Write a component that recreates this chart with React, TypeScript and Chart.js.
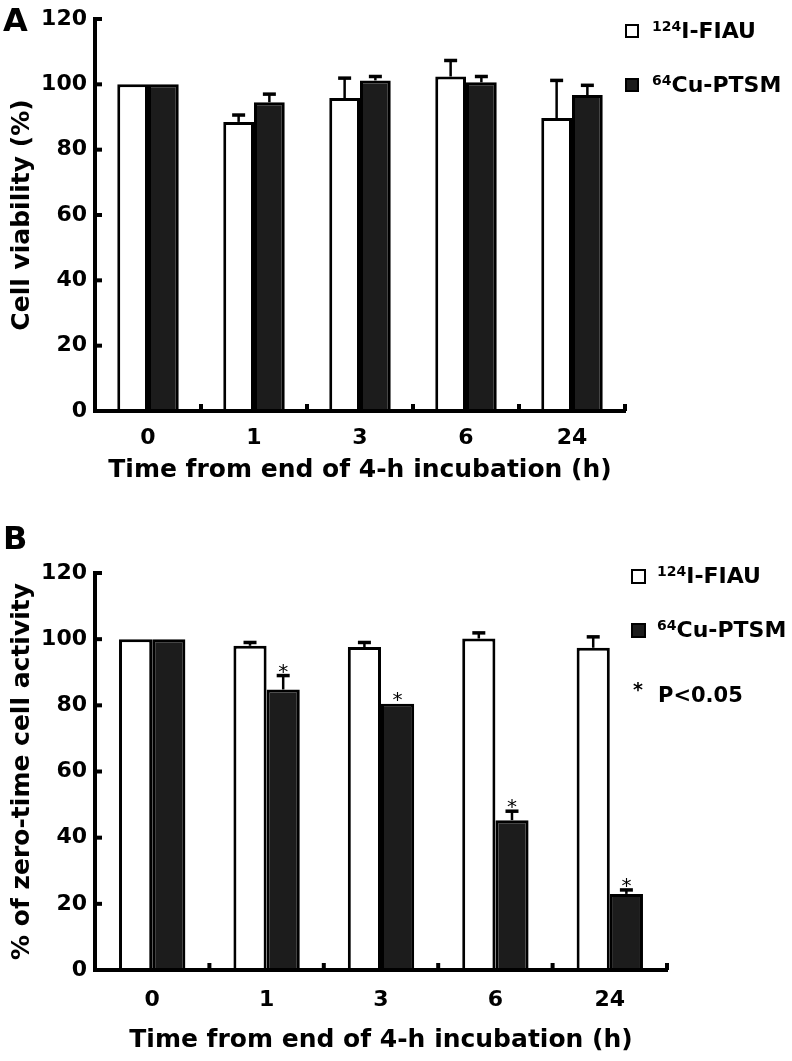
import React, { useEffect, useRef } from "react";
import { Chart, registerables } from "chart.js";

Chart.register(...registerables);

// ---------- data ----------
const categories = ["0", "1", "3", "6", "24"];
const seriesFIAU = "124I-FIAU";
const seriesPTSM = "64Cu-PTSM";
const yTickValues = [0, 20, 40, 60, 80, 100, 120];

// Panel A: cell viability (%)
const viabilityFIAU = [100, 88.5, 95.8, 102.4, 89.7];
const viabilityFIAUErr = [0, 2.1, 6.1, 4.9, 11.5];
const viabilityPTSM = [100, 94.5, 101.2, 100.6, 96.7];
const viabilityPTSMErr = [0, 2.5, 1.2, 1.8, 3.0];

// Panel B: % of zero-time cell activity
const activityFIAU = [100, 98, 97.6, 100.2, 97.4];
const activityFIAUErr = [0, 1, 1.4, 1.7, 3.3];
const activityPTSM = [100, 84.8, 80.5, 45.3, 23];
const activityPTSMErr = [0, 4.2, 0, 2.7, 1.2];
const activityPTSMSignificant = [false, true, true, true, true];

const FONT = "'DejaVu Sans', 'Liberation Sans', Arial, sans-serif";

type PanelProps = {
  top: number;
  width: number;
  height: number;
  white: number[];
  whiteErr: number[];
  black: number[];
  blackErr: number[];
  sig: boolean[] | null;
  yTitle: string;
  padTop: number;
  padRight: number;
  xScaleHeight: number;
  xTickPad: number;
  xTitlePad: number;
};

function decorPlugin(errs: number[][], sig: boolean[] | null) {
  return {
    id: "decor",
    afterDatasetsDraw(chart: any) {
      const ctx = chart.ctx;
      const xs = chart.scales.x;
      const ys = chart.scales.y;
      const area = chart.chartArea;
      ctx.save();
      ctx.strokeStyle = "#000";
      ctx.fillStyle = "#000";
      ctx.lineCap = "butt";
      // error bars + asterisks
      chart.data.datasets.forEach((ds: any, di: number) => {
        const meta = chart.getDatasetMeta(di);
        meta.data.forEach((bar: any, i: number) => {
          const v = ds.data[i] as number;
          const e = errs[di][i];
          const topPx = ys.getPixelForValue(v + e);
          if (e) {
            ctx.lineWidth = 2.5;
            ctx.beginPath();
            ctx.moveTo(bar.x, bar.y);
            ctx.lineTo(bar.x, topPx);
            ctx.stroke();
            ctx.lineWidth = 3.5;
            ctx.beginPath();
            ctx.moveTo(bar.x - 6.5, topPx);
            ctx.lineTo(bar.x + 6.5, topPx);
            ctx.stroke();
          }
          if (sig && di === 1 && sig[i]) {
            ctx.font = `20px ${FONT}`;
            ctx.textAlign = "center";
            ctx.textBaseline = "alphabetic";
            ctx.fillText("*", bar.x, topPx + 2);
          }
        });
      });
      // y axis inner ticks
      ctx.lineWidth = 4;
      ys.ticks.forEach((t: any) => {
        const py = ys.getPixelForValue(t.value);
        ctx.beginPath();
        ctx.moveTo(area.left, py);
        ctx.lineTo(area.left + 7, py);
        ctx.stroke();
      });
      // x axis inner ticks at category boundaries
      const n = chart.data.labels.length;
      const bounds: number[] = [];
      for (let i = 0; i < n - 1; i++) {
        bounds.push((xs.getPixelForValue(i) + xs.getPixelForValue(i + 1)) / 2);
      }
      bounds.push(area.right);
      bounds.forEach((bx) => {
        ctx.beginPath();
        ctx.moveTo(bx, area.bottom);
        ctx.lineTo(bx, area.bottom - 7);
        ctx.stroke();
      });
      ctx.restore();
    },
  };
}

function BarPanel(p: PanelProps) {
  const ref = useRef<HTMLCanvasElement | null>(null);
  useEffect(() => {
    if (!ref.current) return;
    const chart = new Chart(ref.current, {
      type: "bar",
      data: {
        labels: categories,
        datasets: [
          {
            label: seriesFIAU,
            data: p.white,
            backgroundColor: "#ffffff",
            borderColor: "#000000",
            borderWidth: 3,
            categoryPercentage: 0.58,
            barPercentage: 1,
          },
          {
            label: seriesPTSM,
            data: p.black,
            backgroundColor: "#1c1c1c",
            borderColor: "#000000",
            borderWidth: 3,
            categoryPercentage: 0.58,
            barPercentage: 1,
          },
        ],
      },
      options: {
        responsive: false,
        animation: false,
        events: [],
        layout: { padding: { top: p.padTop, right: p.padRight, left: 0, bottom: 0 } },
        plugins: {
          legend: { display: false },
          tooltip: { enabled: false },
          title: { display: false },
        },
        scales: {
          x: {
            grid: { display: false, drawTicks: false },
            border: { display: true, color: "#000", width: 4, z: 1 },
            ticks: {
              color: "#000",
              padding: p.xTickPad,
              font: { family: FONT, size: 22, weight: "bold", lineHeight: 1 },
            },
            title: {
              display: true,
              text: "Time from end of 4-h incubation (h)",
              color: "#000",
              font: { family: FONT, size: 25, weight: "bold", lineHeight: 1 },
              padding: { top: 0, bottom: p.xTitlePad },
            },
            afterFit: (s: any) => {
              s.height = p.xScaleHeight;
            },
          },
          y: {
            min: 0,
            max: 120,
            afterBuildTicks: (s: any) => {
              s.ticks = yTickValues.map((v) => ({ value: v }));
            },
            grid: { display: false, drawTicks: false },
            border: { display: true, color: "#000", width: 4, z: 1 },
            ticks: {
              color: "#000",
              padding: 8,
              font: { family: FONT, size: 22, weight: "bold", lineHeight: 1 },
            },
            title: {
              display: true,
              text: p.yTitle,
              color: "#000",
              font: { family: FONT, size: 25, weight: "bold", lineHeight: 1 },
              padding: { top: 10, bottom: 0 },
            },
            afterFit: (s: any) => {
              s.width = 95;
            },
          },
        },
      } as any,
      plugins: [decorPlugin([p.whiteErr, p.blackErr], p.sig)],
    });
    return () => chart.destroy();
  }, []);
  return (
    <canvas
      ref={ref}
      width={p.width}
      height={p.height}
      style={{ position: "absolute", left: 0, top: p.top, width: p.width, height: p.height, display: "block" }}
    />
  );
}

const textBase: React.CSSProperties = {
  position: "absolute",
  fontFamily: FONT,
  fontWeight: "bold",
  color: "#000",
  whiteSpace: "nowrap",
};

function LegendBox({ left, cy, size, filled }: { left: number; cy: number; size: number; filled: boolean }) {
  return (
    <div
      style={{
        position: "absolute",
        left,
        top: cy - size / 2,
        width: size,
        height: size,
        boxSizing: "border-box",
        border: "2.5px solid #000",
        background: filled ? "#1c1c1c" : "#fff",
      }}
    />
  );
}

function LegendText({ left, cy, sup, rest, size }: { left: number; cy: number; sup: string; rest: string; size: number }) {
  return (
    <div style={{ ...textBase, left, top: cy - size / 2, fontSize: size, lineHeight: `${size}px`, height: size }}>
      <span style={{ fontSize: 14, position: "relative", top: -7 }}>{sup}</span>
      {rest}
    </div>
  );
}

export default function App() {
  return (
    <div style={{ position: "absolute", left: 0, top: 0, width: 792, height: 1061, background: "#fff", overflow: "hidden" }}>
      <BarPanel
        top={0}
        width={792}
        height={500}
        white={viabilityFIAU}
        whiteErr={viabilityFIAUErr}
        black={viabilityPTSM}
        blackErr={viabilityPTSMErr}
        sig={null}
        yTitle="Cell viability (%)"
        padTop={15}
        padRight={167}
        xScaleHeight={89}
        xTickPad={16}
        xTitlePad={17.5}
      />
      <BarPanel
        top={520}
        width={792}
        height={541}
        white={activityFIAU}
        whiteErr={activityFIAUErr}
        black={activityPTSM}
        blackErr={activityPTSMErr}
        sig={activityPTSMSignificant}
        yTitle="% of zero-time cell activity"
        padTop={53}
        padRight={125}
        xScaleHeight={91}
        xTickPad={19}
        xTitlePad={8}
      />
      {/* panel letters */}
      <div style={{ ...textBase, left: 3, top: 4, fontSize: 32, lineHeight: "32px" }}>A</div>
      <div style={{ ...textBase, left: 3, top: 522, fontSize: 32, lineHeight: "32px" }}>B</div>
      {/* legend A */}
      <LegendBox left={625} cy={31} size={14} filled={false} />
      <LegendText left={652} cy={31} sup="124" rest="I-FIAU" size={22} />
      <LegendBox left={625} cy={85} size={14} filled={true} />
      <LegendText left={652} cy={85} sup="64" rest="Cu-PTSM" size={22} />
      {/* legend B */}
      <LegendBox left={631} cy={576} size={15} filled={false} />
      <LegendText left={657} cy={576} sup="124" rest="I-FIAU" size={22} />
      <LegendBox left={631} cy={630} size={15} filled={true} />
      <LegendText left={657} cy={630} sup="64" rest="Cu-PTSM" size={22} />
      <div style={{ ...textBase, left: 633, top: 680, fontSize: 19, lineHeight: "19px" }}>*</div>
      <div style={{ ...textBase, left: 658, top: 684, fontSize: 21, lineHeight: "22px" }}>P&lt;0.05</div>
    </div>
  );
}
